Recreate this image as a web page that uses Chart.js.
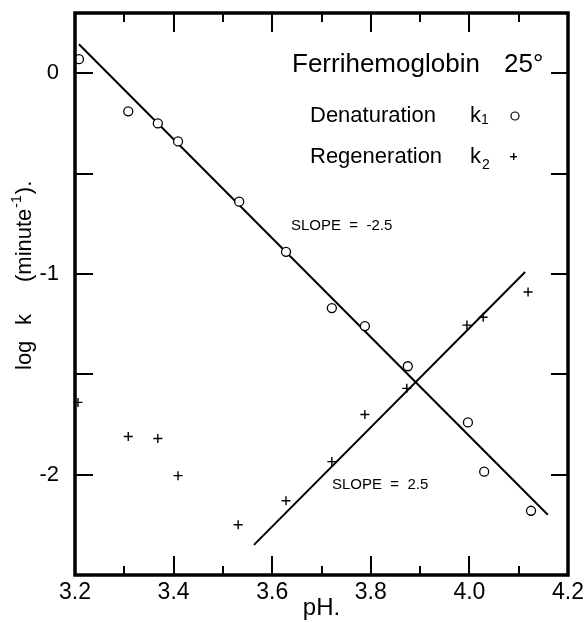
<!DOCTYPE html>
<html>
<head>
<meta charset="utf-8">
<script src="https://cdn.jsdelivr.net/npm/chart.js@4"></script>
<style>
  html, body { margin: 0; padding: 0; background: #fff; }
</style>
</head>
<body>
<canvas id="Chart1" width="584" height="623"></canvas>
<script>
// Denaturation k1 (circles)
const phDenat = [3.208, 3.308, 3.368, 3.409, 3.533, 3.628, 3.721, 3.788, 3.875, 3.997, 4.030, 4.125];
const logK1   = [0.07, -0.19, -0.25, -0.34, -0.64, -0.89, -1.17, -1.26, -1.46, -1.74, -1.985, -2.18];

// Regeneration k2 (crosses)
const phRegen = [3.206, 3.308, 3.368, 3.409, 3.531, 3.628, 3.721, 3.788, 3.873, 3.995, 4.028, 4.119];
const logK2   = [-1.64, -1.81, -1.82, -2.005, -2.25, -2.13, -1.935, -1.70, -1.57, -1.255, -1.216, -1.09];

// drawn lines, slope -2.5 and 2.5
const fit1X = [3.208, 4.159];
const fit1Y = [0.144, -2.20];
const fit2X = [3.563, 4.113];
const fit2Y = [-2.35, -0.99];

// axis range, labels and frame ticks
const xMin = 3.2, xMax = 4.2;
const yMin = -2.5, yMax = 0.3;
const xTickLabels = [3.2, 3.4, 3.6, 3.8, 4.0, 4.2];
const yTickLabels = [0, -1, -2];
const xFrameTicks = [3.3, 3.4, 3.5, 3.6, 3.7, 3.8, 3.9, 4.0, 4.1];
const yFrameTicks = [0, -0.5, -1, -1.5, -2];

const FONT = '"Liberation Sans", Arial, sans-serif';

function pts(xs, ys) {
  return xs.map((v, i) => ({ x: v, y: ys[i] }));
}

// frame with inward ticks + texts
const frame = {
  id: 'frame',
  afterDraw(chart) {
    const g = chart.ctx;
    const a = chart.chartArea;
    const w = a.right - a.left, h = a.bottom - a.top;
    g.save();
    g.setLineDash([]);
    g.strokeStyle = '#000';
    g.fillStyle = '#000';

    // inward ticks on all four sides
    for (let i = 0; i < xFrameTicks.length; i++) {
      const v = xFrameTicks[i];
      const px = Math.round(a.left + (v - xMin) / (xMax - xMin) * w);
      const len = (i % 2 === 1) ? 19 : 9;
      g.fillRect(px - 1, a.bottom - len, 2, len);
      g.fillRect(px - 1, a.top, 2, len);
    }
    for (let i = 0; i < yFrameTicks.length; i++) {
      const v = yFrameTicks[i];
      const py = Math.round(a.top + (yMax - v) / (yMax - yMin) * h);
      g.fillRect(a.left, py - 1, 18, 2);
      g.fillRect(a.right - 17, py - 1, 17, 2);
    }

    g.lineWidth = 3.5;
    g.strokeRect(a.left, a.top, w, h);

    // title
    g.textBaseline = 'alphabetic';
    g.textAlign = 'left';
    g.font = '26px ' + FONT;
    g.fillText('Ferrihemoglobin', 292, 72);
    g.fillText('25°', 504, 72);

    // legend
    g.font = '22px ' + FONT;
    g.fillText('Denaturation', 310, 122);
    g.fillText('Regeneration', 310, 163);
    g.fillText('k', 470, 122);
    g.fillText('k', 470, 163);
    g.font = '14px ' + FONT;
    g.fillText('1', 481, 124);
    g.fillText('2', 482, 169);
    g.lineWidth = 1.2;
    g.beginPath();
    g.arc(515, 116, 4, 0, Math.PI * 2);
    g.stroke();
    g.fillRect(510, 156, 7, 1.4);
    g.fillRect(513, 153, 1.4, 7);

    // slope notes
    g.font = '15px ' + FONT;
    g.fillText('SLOPE  =  -2.5', 291, 230);
    g.fillText('SLOPE  =  2.5', 332, 489);

    // y axis title, rotated
    g.translate(25, 370);
    g.rotate(-Math.PI / 2);
    g.textBaseline = 'middle';
    g.font = '22px ' + FONT;
    g.fillText('log', 0, 0);
    g.fillText('k', 45, 0);
    let tx = 88;
    g.fillText('(minute', tx, 0);
    tx += g.measureText('(minute').width;
    g.font = '14px ' + FONT;
    g.fillText('-1', tx + 1, -8);
    tx += g.measureText('-1').width + 2;
    g.font = '22px ' + FONT;
    g.fillText(').', tx, 0);
    g.restore();
  }
};

new Chart(document.getElementById('Chart1'), {
  type: 'scatter',
  data: {
    datasets: [
      {
        label: 'Denaturation k1',
        data: pts(phDenat, logK1),
        pointStyle: 'circle',
        pointRadius: 4.5,
        pointBackgroundColor: '#fff',
        pointBorderColor: '#000',
        pointBorderWidth: 1.3,
        order: 0
      },
      {
        label: 'Regeneration k2',
        data: pts(phRegen, logK2),
        pointStyle: 'cross',
        pointRadius: 4.5,
        pointBorderColor: '#000',
        pointBorderWidth: 1.4,
        order: 0
      },
      {
        label: 'slope -2.5',
        data: pts(fit1X, fit1Y),
        showLine: true,
        borderColor: '#000',
        borderWidth: 2,
        pointRadius: 0,
        order: 1
      },
      {
        label: 'slope 2.5',
        data: pts(fit2X, fit2Y),
        showLine: true,
        borderColor: '#000',
        borderWidth: 2,
        pointRadius: 0,
        order: 1
      }
    ]
  },
  options: {
    responsive: false,
    animation: false,
    layout: { padding: { top: 13, right: 16, left: 0, bottom: 0 } },
    plugins: {
      legend: { display: false },
      tooltip: { enabled: false }
    },
    scales: {
      x: {
        type: 'linear',
        min: xMin,
        max: xMax,
        afterBuildTicks: s => { s.ticks = xTickLabels.map(v => ({ value: v })); },
        afterFit: s => { s.height = 48; s.paddingLeft = 0; s.paddingRight = 0; },
        ticks: {
          color: '#000',
          font: { family: FONT, size: 23 },
          padding: -4,
          maxRotation: 0,
          autoSkip: false,
          callback: v => v.toFixed(1)
        },
        grid: { display: false },
        border: { display: false },
        title: {
          display: true,
          text: 'pH.',
          color: '#000',
          font: { family: FONT, size: 24 },
          padding: { top: 0, bottom: 0 }
        }
      },
      y: {
        type: 'linear',
        min: yMin,
        max: yMax,
        afterBuildTicks: s => { s.ticks = yTickLabels.map(v => ({ value: v })); },
        afterFit: s => { s.width = 75; s.paddingTop = 0; s.paddingBottom = 0; },
        ticks: {
          color: '#000',
          font: { family: FONT, size: 22 },
          padding: 8,
          autoSkip: false,
          callback: v => String(v)
        },
        grid: { display: false },
        border: { display: false }
      }
    }
  },
  plugins: [frame]
});
</script>
</body>
</html>
